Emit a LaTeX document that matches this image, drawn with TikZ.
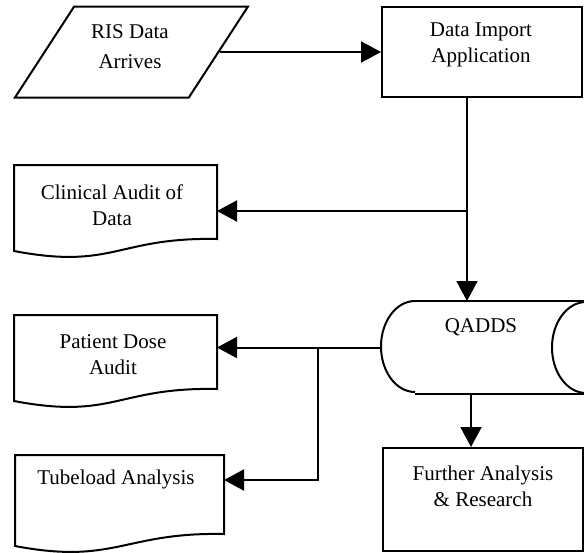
\documentclass[tikz,border=0pt]{standalone}
\usepackage{fontspec}
\setmainfont{Liberation Serif}
\usetikzlibrary{arrows.meta,shapes.geometric}

\tikzset{
  arr/.style={-{Triangle[length=10pt,width=10.5pt]}},
  box/.style={draw, minimum width=100pt, inner sep=0pt},
  doc/.style={minimum width=100.5pt, minimum height=36pt, inner sep=0pt},
  lbl/.style={align=center, font=\fontsize{10.5}{13}\selectfont, inner sep=0pt},
}

% outline of a document shape: straight top and sides, wavy bottom
\newcommand{\docoutline}[1]{%
  \draw (#1.south east) -- (#1.north east) -- (#1.north west) -- ([yshift=-6pt]#1.south west)
    .. controls +(50pt,-9.5pt) and +(-50pt,1pt) .. (#1.south east) -- cycle;}

% outline of a lying drum: half end on the left, whole end on the right
\newcommand{\drumoutline}[1]{%
  \draw ([xshift=17pt]#1.north west) -- (#1.north east);
  \draw ([xshift=17pt]#1.south west) -- (#1.south east);
  \draw ([xshift=17pt]#1.north west) arc [start angle=90, end angle=270, x radius=17pt, y radius=22.75pt];
  \draw (#1.east) ellipse [x radius=17pt, y radius=22.75pt];}

\begin{document}
\begin{tikzpicture}[x=0.5pt, y=-0.5pt, line width=1pt]
\useasboundingbox (0,0) rectangle (584,552);
\clip (0,0) rectangle (584,552);

% Nodes
\node[draw, trapezium, trapezium left angle=62.7, trapezium right angle=117.3,
      trapezium stretches=true, minimum width=116.5pt, minimum height=45.5pt,
      inner sep=2pt] (ris) at (131.5,52) {};
\node[box, minimum height=45pt] (imp) at (482,52) {};
\node[doc] (clin) at (115.5,202) {};
\node[minimum width=101.5pt, minimum height=45.5pt, inner sep=0pt] (qadds) at (483.5,347.5) {};
\node[doc] (pat) at (115.5,352) {};
\node[doc, minimum width=103.5pt, minimum height=38.5pt] (tube) at (119.5,494.5) {};
\node[box, minimum height=51.5pt] (further) at (483,499.5) {};

\docoutline{clin}
\docoutline{pat}
\docoutline{tube}
\drumoutline{qadds}

% Texts
\node[lbl] (ris-t) at (130,47) {RIS Data\\[2pt]Arrives};
\node[lbl] (imp-t) at (481,45) {Data Import\\Application};
\node[lbl] (clin-t) at (112,205.5) {Clinical Audit of\\Data};
\node[lbl] (qadds-t) at (481,327) {QADDS};
\node[lbl] (pat-t) at (113,355) {Patient Dose\\Audit};
\node[lbl] (tube-t) at (116,479) {Tubeload Analysis};
\node[lbl] (further-t) at (483,486) {Further Analysis\\\& Research};

% Junctions
\coordinate (split) at (467,211);
\coordinate (fork) at (318,348);
\coordinate (bend) at (318,480);

% Arrows
\draw[arr] (ris.east) -- (imp.west);
\draw (imp.south -| split) -- (split);
\draw[arr] (split) -- (clin.east |- split);
\draw[arr] (split) -- (split |- qadds.north);
\draw[arr] (qadds.west) -- (pat.east |- qadds.west);
\draw[arr] (fork) -- (bend) -- (bend -| tube.east);
\draw[arr] ([xshift=-6pt]further.north |- qadds.south) -- ([xshift=-6pt]further.north);
\end{tikzpicture}
\end{document}
